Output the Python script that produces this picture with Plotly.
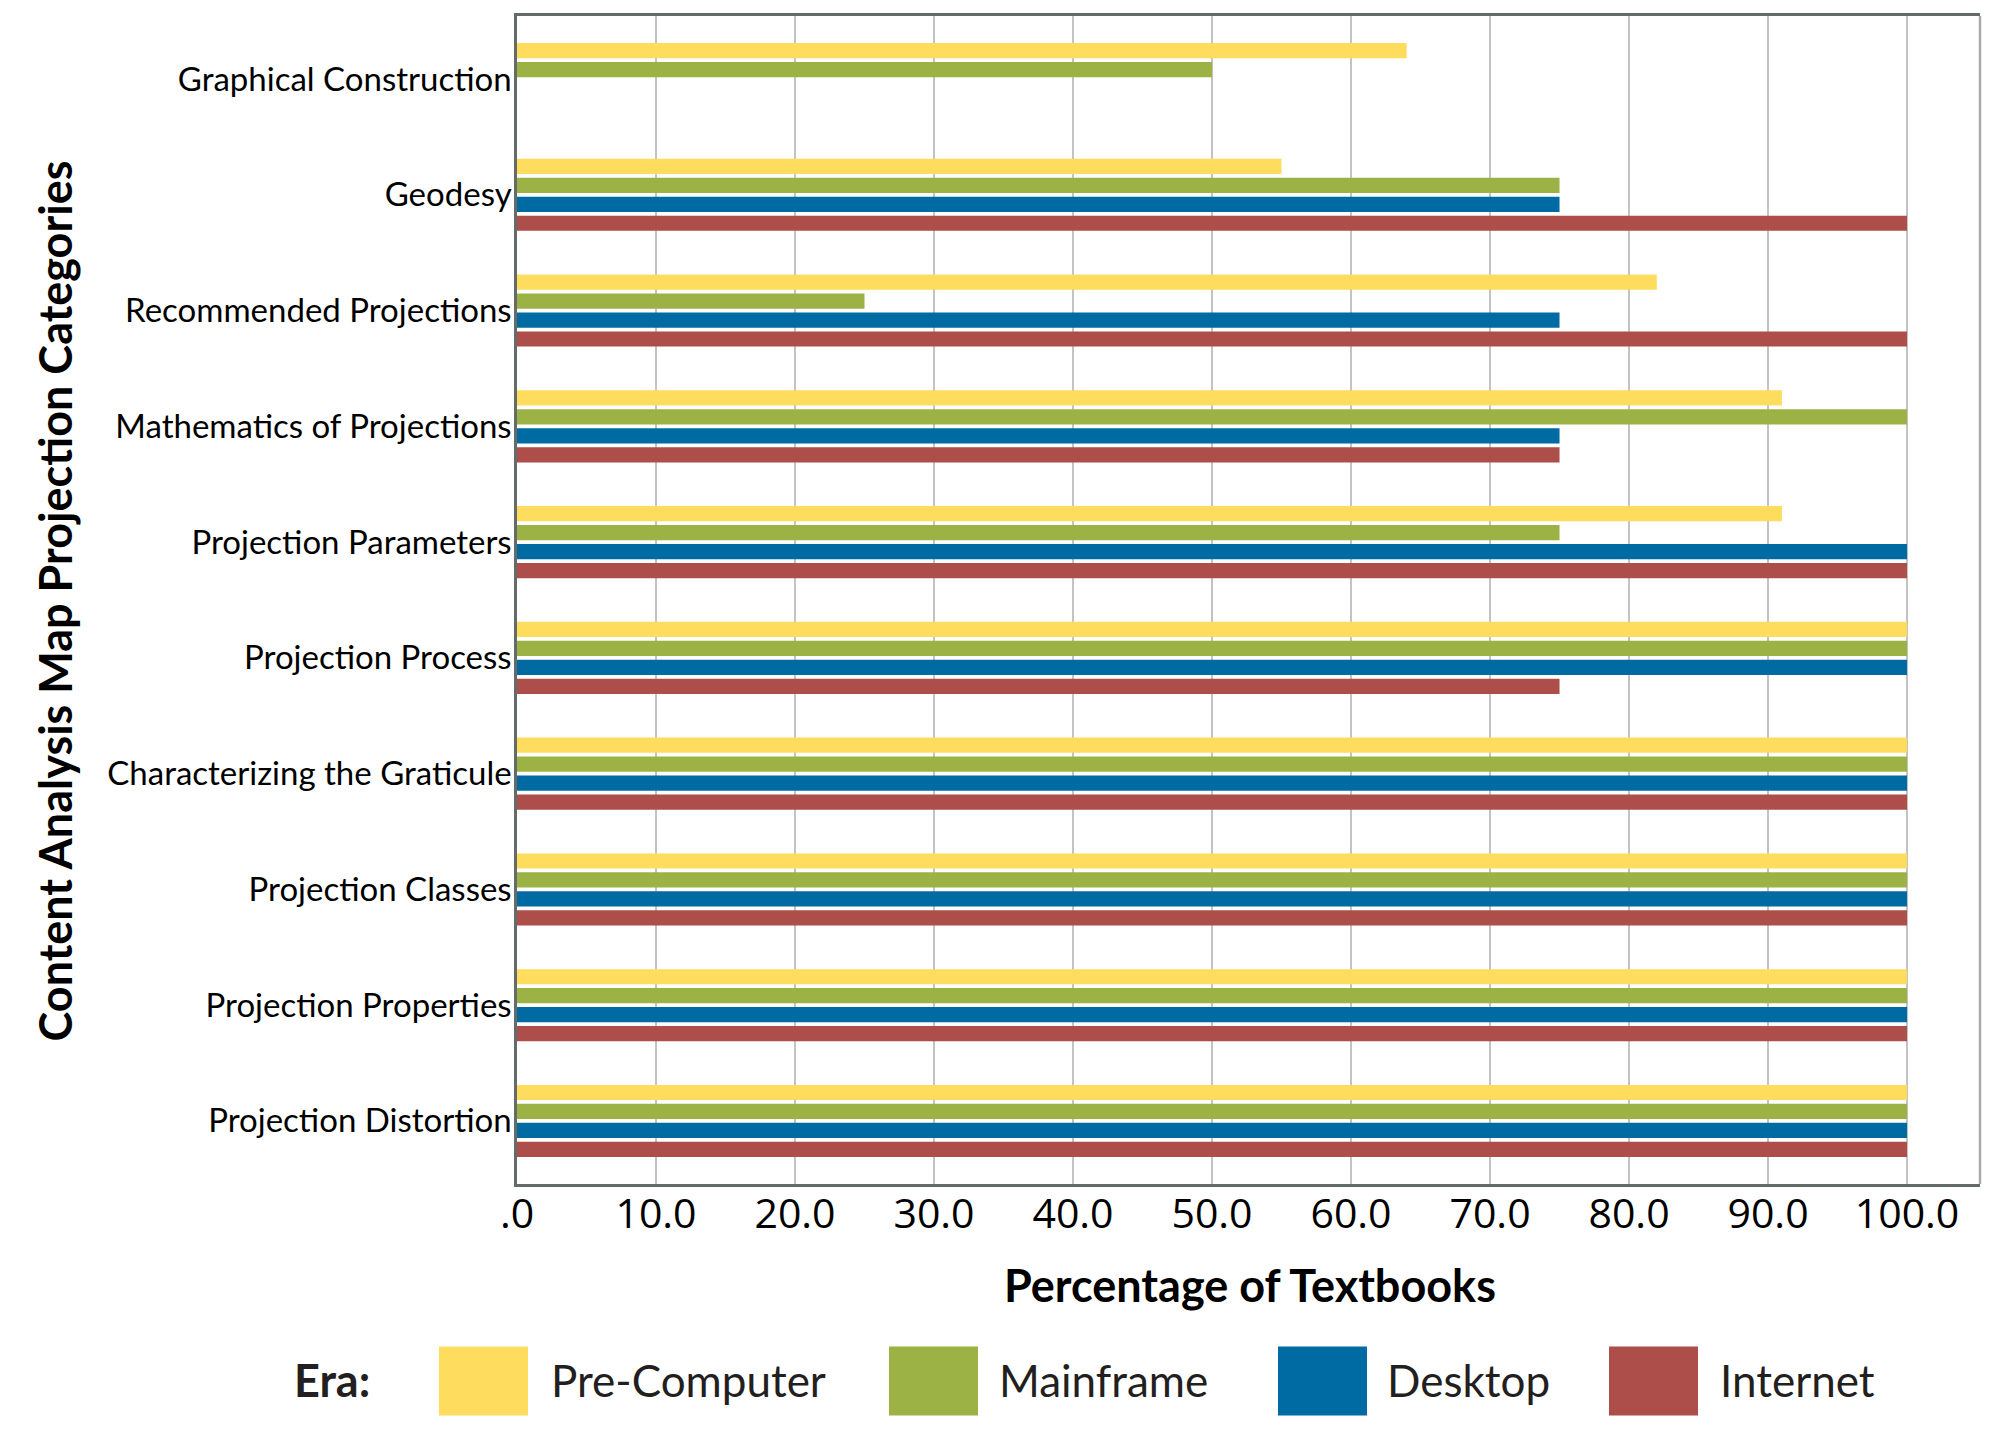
import plotly.graph_objects as go

categories = [
    "Graphical Construction",
    "Geodesy",
    "Recommended Projections",
    "Mathematics of Projections",
    "Projection Parameters",
    "Projection Process",
    "Characterizing the Graticule",
    "Projection Classes",
    "Projection Properties",
    "Projection Distortion",
]
eras = ["Pre-Computer", "Mainframe", "Desktop", "Internet"]
pre_computer = [64, 55, 82, 91, 91, 100, 100, 100, 100, 100]
mainframe = [50, 75, 25, 100, 75, 100, 100, 100, 100, 100]
desktop = [0, 75, 75, 75, 100, 100, 100, 100, 100, 100]
internet = [0, 100, 100, 75, 100, 75, 100, 100, 100, 100]
tick_vals = [0, 10, 20, 30, 40, 50, 60, 70, 80, 90, 100]
tick_text = [".0", "10.0", "20.0", "30.0", "40.0", "50.0", "60.0", "70.0", "80.0", "90.0", "100.0"]

colors = ["#FEDC5D", "#9DB245", "#006BA3", "#AD4E4A"]
series = [pre_computer, mainframe, desktop, internet]

# page body has an 8px default margin; work in reference pixel space and shift
OFF = 8
W, H = 2000 - 2 * OFF, 1456 - 2 * OFF
L, R, T, B = 517, 1980, 13, 1184   # plot area in reference pixels


def px(xp):
    return (xp - L) / (R - L)


def py(yp):
    return (B - yp) / (B - T)


fig = go.Figure()
for name, vals, c in zip(eras, series, colors):
    fig.add_trace(go.Bar(
        y=categories, x=vals, name=name, orientation="h",
        marker=dict(color=c, line=dict(width=0)),
        showlegend=False,
    ))

shapes = [
    dict(type="line", xref="paper", yref="paper", x0=1, x1=1, y0=0, y1=1,
         line=dict(color="#A8ADAB", width=2.5)),
]
annotations = [
    dict(text="<b>Content Analysis Map Projection Categories</b>", xref="paper", yref="paper",
         x=px(55), y=py(600), xanchor="center", yanchor="middle", textangle=-90,
         showarrow=False, font=dict(family="Lato", size=45, color="#000000")),
    dict(text="<b>Percentage of Textbooks</b>", xref="paper", yref="paper",
         x=px(1250), y=py(1285), xanchor="center", yanchor="middle",
         showarrow=False, font=dict(family="Lato", size=45, color="#000000")),
    dict(text="<b>Era:</b>", xref="paper", yref="paper",
         x=px(292), y=py(1381), xanchor="left", yanchor="middle",
         showarrow=False, font=dict(family="Lato", size=45, color="#231F20")),
]
sw_left = [439, 889, 1278, 1609]
txt_left = [549, 997, 1385, 1718]
for name, c, sx, tx in zip(eras, colors, sw_left, txt_left):
    shapes.append(dict(type="rect", xref="paper", yref="paper",
                       x0=px(sx), x1=px(sx + 89), y0=py(1416), y1=py(1347),
                       fillcolor=c, line=dict(width=0)))
    annotations.append(dict(text=name, xref="paper", yref="paper",
                            x=px(tx), y=py(1381), xanchor="left", yanchor="middle",
                            showarrow=False, font=dict(family="Lato", size=44, color="#231F20")))

fig.update_layout(
    width=W, height=H,
    margin=dict(l=L - OFF, r=W - (R - OFF), t=T - OFF, b=H - (B - OFF), pad=0),
    paper_bgcolor="white", plot_bgcolor="white",
    barmode="group", bargap=0.345, bargroupgap=0.2,
    shapes=shapes, annotations=annotations,
    xaxis=dict(
        range=[0, 105.25], tickvals=tick_vals, ticktext=tick_text,
        showgrid=True, gridcolor="#C3C3C3", gridwidth=1.5,
        showline=True, linecolor="#646B69", linewidth=2.5, mirror=True,
        ticks="", zeroline=False, ticklabelstandoff=-8,
        tickfont=dict(family="Open Sans", size=41, color="#000000"),
    ),
    yaxis=dict(
        categoryorder="array", categoryarray=categories,
        range=[9.545, -0.545],
        showgrid=False, showline=True, linecolor="#646B69", linewidth=2.5,
        ticks="", zeroline=False, ticklabelstandoff=-4,
        tickfont=dict(family="Lato", size=33, color="#000000"),
    ),
)

fig.write_html("out.html")
